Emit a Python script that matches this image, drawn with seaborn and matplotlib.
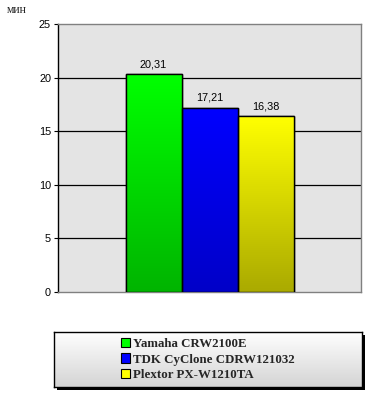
import numpy as np
import pandas as pd
import matplotlib
matplotlib.use("Agg")
import matplotlib.pyplot as plt
import seaborn as sns
from matplotlib.patches import Rectangle
from matplotlib.colors import LinearSegmentedColormap

# ---- data ----
drives = ["Yamaha CRW2100E", "TDK CyClone CDRW121032", "Plextor PX-W1210TA"]
minutes = [20.31, 17.21, 16.38]
value_labels = ["20,31", "17,21", "16,38"]
y_ticks = [0, 5, 10, 15, 20, 25]
unit_label = "мин"

top_colors = ["#00ff00", "#0000ff", "#ffff00"]
bottom_colors = ["#00b400", "#0000c8", "#aaaa00"]

sns.set_theme(style="white")
plt.rcParams["font.family"] = ["Liberation Sans", "DejaVu Sans"]

W, H = 375, 400
fig = plt.figure(figsize=(W / 100, H / 100), dpi=100)
fig.patch.set_facecolor("white")

ax = fig.add_axes([58 / W, (H - 292) / H, 303 / W, 268 / H])
ax.set_facecolor("#e4e4e4")

df = pd.DataFrame({"grp": ["a"] * 3, "drive": drives, "min": minutes})
sns.barplot(data=df, x="grp", y="min", hue="drive", hue_order=drives,
            palette=top_colors, width=168 / 303, dodge=True, gap=0,
            legend=False, ax=ax, edgecolor="black", linewidth=1.0,
            zorder=3)

ax.set_xlim(-0.5, 0.5)
ax.set_ylim(0, 25)

# gradient fills clipped to bars
bars = [p for p in ax.patches]
for p, tc, bc in zip(bars, top_colors, bottom_colors):
    x0, y0 = p.get_x(), p.get_y()
    w, h = p.get_width(), p.get_height()
    cmap = LinearSegmentedColormap.from_list("g", [bc, tc])
    grad = np.linspace(0, 1, 256).reshape(-1, 1)
    im = ax.imshow(grad, extent=[x0, x0 + w, 0, h], origin="lower",
                   cmap=cmap, aspect="auto", zorder=3.5,
                   vmin=0, vmax=1)
    im.set_clip_path(p)
    edge = Rectangle((x0, y0), w, h, fill=False, edgecolor="black",
                     linewidth=1.0, zorder=4)
    ax.add_patch(edge)
    p.set_facecolor("none")
ax.set_xlim(-0.5, 0.5)
ax.set_ylim(0, 25)

for p, lab in zip(bars, value_labels):
    ax.text(p.get_x() + p.get_width() / 2, p.get_height() + 0.45, lab,
            ha="center", va="bottom", fontsize=7.8, color="black", zorder=5)

# grid
for yv in y_ticks[1:-1]:
    ax.axhline(yv, color="black", linewidth=0.9, zorder=2)

ax.set_yticks(y_ticks)
ax.set_yticklabels([str(v) for v in y_ticks], fontsize=7.8)
ax.set_xticks([])
ax.set_xlabel("")
ax.set_ylabel("")
ax.tick_params(axis="y", which="both", left=True, length=3, width=0.8,
               color="black", pad=2, labelcolor="black")
for side in ["top", "right", "bottom"]:
    ax.spines[side].set_color("#808080")
    ax.spines[side].set_linewidth(1.0)
    ax.spines[side].set_visible(True)
ax.spines["left"].set_color("black")
ax.spines["left"].set_linewidth(1.0)

fig.text(7 / W, 1 - 10 / H, unit_label, fontsize=8.5, ha="left",
         va="center", family=["Liberation Serif"])

# legend box
lx0, ly0, lw, lh = 54, 332, 308, 55
shadow = fig.add_axes([(lx0 + 3) / W, (H - ly0 - lh - 3) / H, lw / W, lh / H])
shadow.set_facecolor("black")
shadow.set_xticks([]); shadow.set_yticks([])
for s in shadow.spines.values():
    s.set_visible(False)

lax = fig.add_axes([lx0 / W, (H - ly0 - lh) / H, lw / W, lh / H])
gcmap = LinearSegmentedColormap.from_list("lg", ["#d4d4d4", "#ffffff"])
lax.imshow(np.linspace(0, 1, 256).reshape(-1, 1), extent=[0, 1, 0, 1],
           origin="lower", cmap=gcmap, aspect="auto")
lax.set_xlim(0, 1); lax.set_ylim(0, 1)
lax.set_xticks([]); lax.set_yticks([])
for s in lax.spines.values():
    s.set_color("black")
    s.set_linewidth(1.0)

handles = [Rectangle((0, 0), 1, 1, facecolor=c, edgecolor="black", linewidth=0.8)
           for c in top_colors]
leg = lax.legend(handles, drives, loc="center", frameon=False,
                 prop={"family": "Liberation Serif", "weight": "bold", "size": 9.3},
                 handlelength=0.7, handleheight=0.7, handletextpad=0.25,
                 labelspacing=0.25, borderaxespad=0)

fig.savefig("out.png", dpi=100)
